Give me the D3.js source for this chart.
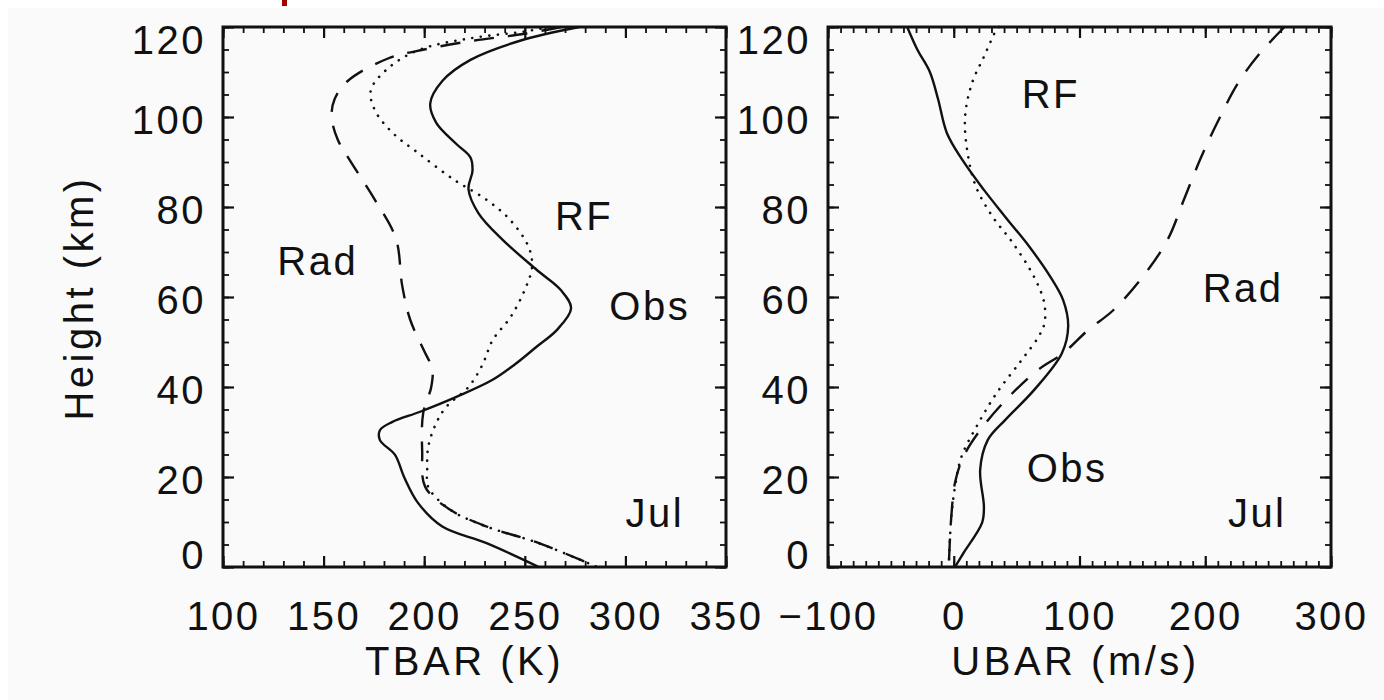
<!DOCTYPE html>
<html>
<head>
<meta charset="utf-8">
<title>TBAR / UBAR profiles, July</title>
<script src="https://cdnjs.cloudflare.com/ajax/libs/d3/7.8.5/d3.min.js"></script>
<style>
  html, body { margin: 0; padding: 0; background: #ffffff; }
  svg text { font-family: "Liberation Sans", Arial, sans-serif; fill: #111; }
</style>
</head>
<body>
<div id="chart"></div>
<script>
// ---- data (height in km) ----
const tbarObsH = [120, 117, 112.7, 108, 103, 98.7, 94, 91, 88, 84, 78.6, 72.7, 66, 61.5, 57.5, 52.7, 49, 45, 41.6, 37.8, 34.5, 32.2, 30.4, 28.2, 24.9, 20, 14.2, 9, 5.3, 0];
const tbarObs  = [277, 248, 223, 209, 203, 206, 216, 223, 224, 222, 227, 239, 256, 268, 273, 266, 256, 245, 234, 216, 198, 184, 178, 178, 185.5, 190, 197, 209, 231, 257];

const tbarRfH = [120, 119, 117.5, 115, 111, 106, 101.5, 96.4, 92, 86, 81.6, 77, 71, 66.7, 61.6, 55.6, 50.4, 45, 40, 35.6, 32, 26.7, 21.5, 17.8, 12.7, 9, 5.3, 0];
const tbarRf  = [262, 250, 223, 198, 182.5, 173.5, 175.5, 184.5, 197, 215, 231, 243, 252, 253.6, 250, 243, 234, 229, 222, 211, 206, 202, 201.5, 202, 213, 231, 257, 286];

const tbarRadH = [120, 118.5, 117, 115, 113, 108, 104, 100, 95, 90.4, 81.6, 72.9, 62.7, 55, 48, 44, 40, 34.2, 25.6, 17.8, 12.7, 9, 5.3, 0];
const tbarRad  = [268, 250, 225, 200, 182, 162, 155.5, 154, 157, 163, 175.5, 186, 189, 193, 200, 204, 203.5, 199.5, 199, 200.5, 213, 231, 257, 286];

const ubarObsH = [120, 115, 110, 104, 96.4, 90.4, 83.8, 77.8, 71, 64.4, 59.3, 53.5, 47.5, 39.3, 32.7, 28.2, 21.6, 13.3, 9.8, 3, 0];
const ubarObs  = [-37, -29, -19, -12.5, -5.4, 7, 24, 41, 60.6, 77, 87, 91, 86, 63.8, 41, 27, 21, 24, 22.5, 7.5, 1];

const ubarRfH = [120, 119.4, 113.4, 107.5, 100, 92, 84.5, 77.8, 72, 64.4, 58.6, 54, 51, 46, 38.6, 31, 24.4, 17.8, 11, 0];
const ubarRf  = [36, 34, 24, 14.5, 9, 11, 17.7, 31, 47, 64, 72, 72, 67, 54, 34, 17.7, 6, 1, -2, -4];

const ubarRadH = [120, 114, 107.5, 99, 91, 81.6, 72.7, 64.4, 57, 52.7, 47.5, 43.8, 37, 30.4, 24.4, 18.7, 11, 0];
const ubarRad  = [263, 243, 226, 210, 196.6, 183, 170, 150, 126.6, 107, 87, 67, 41, 21, 7.5, 1, -2, -4];

// annotations: [text, x value, height]
const tbarNotes = [["Rad", 127, 65], ["RF", 265, 75], ["Obs", 292, 55], ["Jul", 300, 9]];
const ubarNotes = [["RF", 54, 102], ["Rad", 198, 59], ["Obs", 58, 19], ["Jul", 218, 9]];

const heightTicks = [0, 20, 40, 60, 80, 100, 120];
const tbarTicks = [100, 150, 200, 250, 300, 350];
const ubarTicks = [-100, 0, 100, 200, 300];

// ---- layout ----
const W = 1384, H = 700;
const yTop = 27, yBottom = 567;

const svg = d3.select("#chart").append("svg")
    .attr("width", W).attr("height", H);

// scanned-page background
svg.append("rect").attr("x", 8).attr("y", 8).attr("width", W - 8).attr("height", H - 8)
    .attr("fill", "#fafafa");
svg.append("rect").attr("x", 282).attr("y", 0).attr("width", 5).attr("height", 6)
    .attr("fill", "#a30000");

const y = d3.scaleLinear().domain([0, 120]).range([yBottom, yTop]);

function labelShift(v) {
    if (v === 120) return 14;
    if (v === 0) return -11;
    return 4;
}

function panel(opts) {
    const x = d3.scaleLinear().domain(opts.domain).range(opts.range);
    const [x0, x1] = opts.range;
    const g = svg.append("g");

    // minor + major ticks, all four sides, pointing inward
    const minorX = d3.range(opts.domain[0], opts.domain[1] + 0.1, opts.minorStep);
    const minorY = d3.range(0, 121, 5);
    const sides = [
        [() => d3.axisTop(x), `translate(0,${yBottom})`, minorX, opts.ticks],
        [() => d3.axisBottom(x), `translate(0,${yTop})`, minorX, opts.ticks],
        [() => d3.axisRight(y), `translate(${x0},0)`, minorY, heightTicks],
        [() => d3.axisLeft(y), `translate(${x1},0)`, minorY, heightTicks]
    ];
    sides.forEach(([mk, tr, minor, major]) => {
        g.append("g").attr("transform", tr)
            .call(mk().tickValues(minor).tickSize(6).tickFormat(""))
            .call(s => s.select(".domain").remove())
            .call(s => s.selectAll("line").attr("stroke", "#111").attr("stroke-width", 1.8));
        g.append("g").attr("transform", tr)
            .call(mk().tickValues(major).tickSize(11).tickFormat(""))
            .call(s => s.select(".domain").remove())
            .call(s => s.selectAll("line").attr("stroke", "#111").attr("stroke-width", 2.2));
    });

    // frame
    g.append("rect").attr("x", x0).attr("y", yTop)
        .attr("width", x1 - x0).attr("height", yBottom - yTop)
        .attr("fill", "none").attr("stroke", "#111").attr("stroke-width", 3);

    // tick labels
    g.append("g").attr("transform", `translate(0,${yBottom})`)
        .call(d3.axisBottom(x).tickValues(opts.ticks).tickSize(0).tickPadding(35))
        .call(s => s.select(".domain").remove())
        .call(s => s.selectAll("text").attr("font-size", 40).attr("fill", "#111")
            .style("letter-spacing", "2.5px"));

    g.append("g").attr("transform", `translate(${x0},0)`)
        .call(d3.axisLeft(y).tickValues(heightTicks).tickSize(0).tickPadding(17))
        .call(s => s.select(".domain").remove())
        .call(s => s.selectAll("text").attr("font-size", 40).attr("fill", "#111")
            .style("letter-spacing", "2.5px")
            .attr("y", d => labelShift(d)));

    // strip d3's default axis font so the CSS font applies
    g.selectAll("g").attr("font-family", null).attr("font-size", null);

    // profiles
    const line = d3.line()
        .x(d => x(d[0])).y(d => y(d[1]))
        .curve(d3.curveCatmullRom.alpha(0.5));

    opts.series.forEach(s => {
        g.append("path")
            .datum(s.values.map((v, i) => [v, s.heights[i]]))
            .attr("d", line)
            .attr("fill", "none")
            .attr("stroke", "#111")
            .attr("stroke-width", s.width)
            .attr("stroke-linecap", s.cap || "butt")
            .attr("stroke-dasharray", s.dash);
    });

    // annotations
    g.selectAll("text.note").data(opts.notes).join("text")
        .attr("class", "note")
        .attr("x", d => x(d[1])).attr("y", d => y(d[2]))
        .attr("font-size", 40)
        .style("letter-spacing", "2.5px")
        .text(d => d[0]);

    // axis title
    g.append("text")
        .attr("x", (x0 + x1) / 2 - opts.titleShift).attr("y", 675)
        .attr("text-anchor", "middle")
        .attr("font-size", 40)
        .style("letter-spacing", "3.5px")
        .text(opts.title);
}

panel({
    domain: [100, 350], range: [223, 726], minorStep: 10, ticks: tbarTicks,
    title: "TBAR (K)", titleShift: 10, notes: tbarNotes,
    series: [
        { values: tbarObs, heights: tbarObsH, width: 2.4, dash: null },
        { values: tbarRf, heights: tbarRfH, width: 2.6, dash: "0.1,8.5", cap: "round" },
        { values: tbarRad, heights: tbarRadH, width: 2.4, dash: "20,14" }
    ]
});

panel({
    domain: [-100, 300], range: [828, 1331], minorStep: 10, ticks: ubarTicks,
    title: "UBAR (m/s)", titleShift: 4, notes: ubarNotes,
    series: [
        { values: ubarObs, heights: ubarObsH, width: 2.4, dash: null },
        { values: ubarRf, heights: ubarRfH, width: 2.6, dash: "0.1,8.5", cap: "round" },
        { values: ubarRad, heights: ubarRadH, width: 2.4, dash: "22,15" }
    ]
});

// y-axis title
svg.append("text")
    .attr("transform", "translate(93,298) rotate(-90)")
    .attr("text-anchor", "middle")
    .attr("font-size", 40)
    .style("letter-spacing", "3.5px")
    .text("Height (km)");
</script>
</body>
</html>
